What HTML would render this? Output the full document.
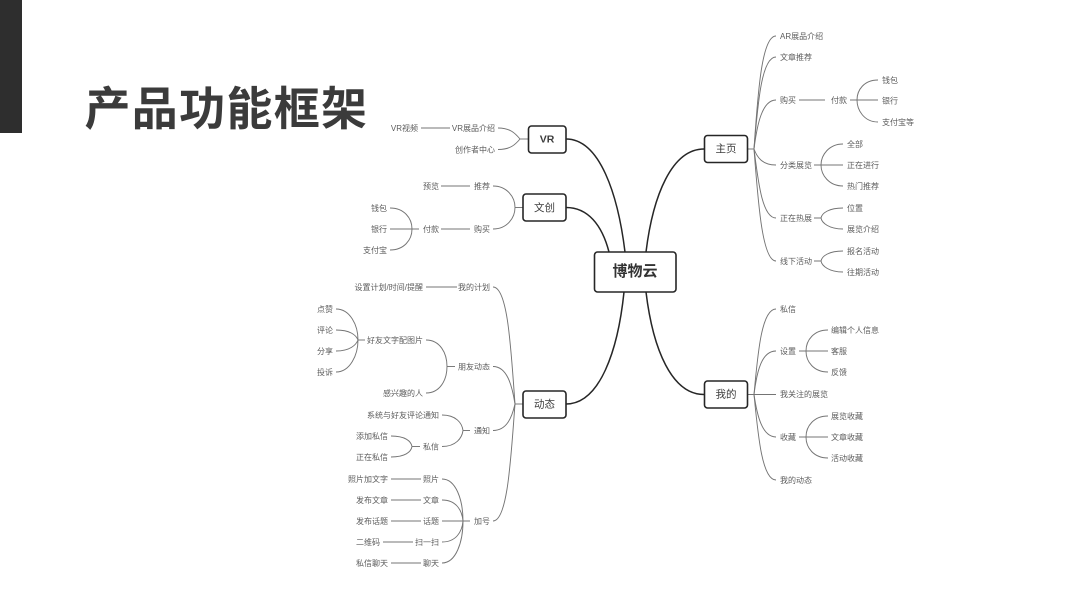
<!DOCTYPE html>
<html lang="zh">
<head>
<meta charset="utf-8">
<title>产品功能框架</title>
<style>
html,body{margin:0;padding:0;background:#fff;width:1067px;height:600px;overflow:hidden}
svg{display:block;filter:blur(.3px)}
text{font-family:"Liberation Sans","Noto Sans CJK SC",sans-serif}
.t{font-size:8px;fill:#5c5c5c;dominant-baseline:central;transform:translateY(.5px)}
.e{text-anchor:end}
.b{font-size:10.500px;fill:#3c3c3c;text-anchor:middle;dominant-baseline:central;transform:translateY(.5px)}
.l{fill:none;stroke:#747474;stroke-width:.95}
.m{fill:none;stroke:#262626;stroke-width:1.500}
.r{fill:#fff;stroke:#262626;stroke-width:1.600}
</style>
</head>
<body>
<svg width="1067" height="600" viewBox="0 0 1067 600" xmlns="http://www.w3.org/2000/svg">
<rect x="0" y="0" width="22" height="133" fill="#2e2e2e"/>
<text x="84.500" y="109" font-size="46" font-weight="700" letter-spacing="1.300" fill="#3b3b3b" dominant-baseline="central">产品功能框架</text>

<!-- main connectors -->
<path class="m" d="M566 139 C600 139 618 195 625 252"/>
<path class="m" d="M566 207.500 C588 207.500 602 225 609 252"/>
<path class="m" d="M566 404 C600 404 618 350 624 292"/>
<path class="m" d="M704 149 C672 149 653 195 646 252"/>
<path class="m" d="M704 394.500 C672 394.500 653 350 646 292"/>

<!-- right: 主页 -->
<path class="l" d="M748 149H754"/>
<path class="l" d="M754 149C758 90 762 36 776 36"/>
<path class="l" d="M754 149C758 100 762 57 776 57"/>
<path class="l" d="M754 149C757 125 762 100 776 100"/>
<path class="l" d="M754 149C757 157 762 165 776 165"/>
<path class="l" d="M754 149C758 180 762 218 776 218"/>
<path class="l" d="M754 149C758 200 762 261 776 261"/>
<path class="l" d="M799 100H825M850 100H878"/>
<path class="l" d="M857 100C857 90 864 80 878 80M857 100C857 110 864 122 878 122"/>
<path class="l" d="M814 165H843"/>
<path class="l" d="M821 165C821 155 829 144 843 144M821 165C821 175 829 186 843 186"/>
<path class="l" d="M814 218H821C822 213 829 208 843 208M821 218C822 223 829 229 843 229"/>
<path class="l" d="M814 261H821C822 256 829 251 843 251M821 261C822 266 829 272 843 272"/>
<text class="t" x="780" y="36">AR展品介绍</text>
<text class="t" x="780" y="57">文章推荐</text>
<text class="t" x="780" y="100">购买</text>
<text class="t" x="831" y="100">付款</text>
<text class="t" x="882" y="80">钱包</text>
<text class="t" x="882" y="100.500">银行</text>
<text class="t" x="882" y="122">支付宝等</text>
<text class="t" x="780" y="165">分类展览</text>
<text class="t" x="847" y="144">全部</text>
<text class="t" x="847" y="165">正在进行</text>
<text class="t" x="847" y="186">热门推荐</text>
<text class="t" x="780" y="218">正在热展</text>
<text class="t" x="847" y="208">位置</text>
<text class="t" x="847" y="229">展览介绍</text>
<text class="t" x="780" y="261">线下活动</text>
<text class="t" x="847" y="251">报名活动</text>
<text class="t" x="847" y="272">往期活动</text>

<!-- right: 我的 -->
<path class="l" d="M748 394.500H776"/>
<path class="l" d="M754 394.500C758 350 762 309 776 309"/>
<path class="l" d="M754 394.500C757 370 762 351 776 351"/>
<path class="l" d="M754 394.500C757 415 762 437 776 437"/>
<path class="l" d="M754 394.500C758 435 762 480 776 480"/>
<path class="l" d="M799 351H828"/>
<path class="l" d="M806 351C806 340 814 330 828 330M806 351C806 362 814 372 828 372"/>
<path class="l" d="M799 437H828"/>
<path class="l" d="M806 437C806 426 814 416 828 416M806 437C806 448 814 458 828 458"/>
<text class="t" x="780" y="309">私信</text>
<text class="t" x="780" y="351">设置</text>
<text class="t" x="831" y="330">编辑个人信息</text>
<text class="t" x="831" y="351">客服</text>
<text class="t" x="831" y="372">反馈</text>
<text class="t" x="780" y="394">我关注的展览</text>
<text class="t" x="780" y="437">收藏</text>
<text class="t" x="831" y="416">展览收藏</text>
<text class="t" x="831" y="437">文章收藏</text>
<text class="t" x="831" y="458">活动收藏</text>
<text class="t" x="780" y="480">我的动态</text>

<!-- left: VR -->
<path class="l" d="M528 139H520"/>
<path class="l" d="M520 139C515 133 510 128 498 128M520 139C515 145 510 149.500 498 149.500"/>
<path class="l" d="M421 128H450"/>
<text class="t e" x="418" y="128">VR视频</text>
<text class="t e" x="495" y="128">VR展品介绍</text>
<text class="t e" x="495" y="149.500">创作者中心</text>

<!-- left: 文创 -->
<path class="l" d="M523 207.500H515"/>
<path class="l" d="M515 207.500C515 197 507 186 493 186M515 207.500C515 218 507 229 493 229"/>
<path class="l" d="M441 186H470M441 229H470"/>
<path class="l" d="M419 229H390"/>
<path class="l" d="M412 229C412 218 404 208 390 208M412 229C412 240 404 250 390 250"/>
<text class="t e" x="439" y="186">预览</text>
<text class="t e" x="490" y="186">推荐</text>
<text class="t e" x="490" y="229">购买</text>
<text class="t e" x="439" y="229">付款</text>
<text class="t e" x="387" y="208">钱包</text>
<text class="t e" x="387" y="229">银行</text>
<text class="t e" x="387" y="250">支付宝</text>

<!-- left: 动态 -->
<path class="l" d="M523 404H515"/>
<path class="l" d="M515 404C511 350 508 287 493 287"/>
<path class="l" d="M515 404C512 385 507 366.500 493 366.500"/>
<path class="l" d="M515 404C512 417 507 430.500 493 430.500"/>
<path class="l" d="M515 404C511 455 508 521 493 521"/>
<path class="l" d="M426 287H457"/>
<path class="l" d="M455 366.500H447"/>
<path class="l" d="M447 366.500C447 353 440 340 426 340M447 366.500C447 380 440 393 426 393"/>
<path class="l" d="M365 340H358"/>
<path class="l" d="M358 340C358 325 350 309 336 309M358 340C356 335 350 330 336 330M358 340C356 345 350 351 336 351M358 340C358 355 350 372 336 372"/>
<path class="l" d="M470 430.500H463"/>
<path class="l" d="M463 430.500C462 423 456 415 442 415M463 430.500C462 438 456 446.500 442 446.500"/>
<path class="l" d="M420 446.500H412"/>
<path class="l" d="M412 446.500C411 441 405 436 391 436M412 446.500C411 452 405 457 391 457"/>
<path class="l" d="M470 521H442"/>
<path class="l" d="M463 521C463 500 456 479 442 479M463 521C462 510 456 500 442 500M463 521C462 532 456 542 442 542M463 521C463 542 456 563 442 563"/>
<path class="l" d="M391 479H421M391 500H421M391 521H421M383 542H413M391 563H421"/>
<text class="t e" x="423" y="287">设置计划/时间/提醒</text>
<text class="t e" x="490" y="287">我的计划</text>
<text class="t e" x="333" y="309">点赞</text>
<text class="t e" x="333" y="330">评论</text>
<text class="t e" x="333" y="351">分享</text>
<text class="t e" x="333" y="372">投诉</text>
<text class="t e" x="423" y="340">好友文字配图片</text>
<text class="t e" x="423" y="393">感兴趣的人</text>
<text class="t e" x="490" y="366.500">朋友动态</text>
<text class="t e" x="439" y="415">系统与好友评论通知</text>
<text class="t e" x="388" y="436">添加私信</text>
<text class="t e" x="388" y="457">正在私信</text>
<text class="t e" x="439" y="446.500">私信</text>
<text class="t e" x="490" y="430.500">通知</text>
<text class="t e" x="388" y="479">照片加文字</text>
<text class="t e" x="439" y="479">照片</text>
<text class="t e" x="388" y="500">发布文章</text>
<text class="t e" x="439" y="500">文章</text>
<text class="t e" x="388" y="521">发布话题</text>
<text class="t e" x="439" y="521">话题</text>
<text class="t e" x="380" y="542">二维码</text>
<text class="t e" x="439" y="542">扫一扫</text>
<text class="t e" x="388" y="563">私信聊天</text>
<text class="t e" x="439" y="563">聊天</text>
<text class="t e" x="490" y="521">加号</text>

<!-- nodes -->
<rect class="r" x="594.500" y="252" width="81.500" height="40" rx="3"/>
<text x="635" y="271.500" font-size="15" font-weight="700" fill="#333" text-anchor="middle" dominant-baseline="central">博物云</text>
<rect class="r" x="528.500" y="126" width="37.500" height="27" rx="3"/>
<text class="b" x="547" y="139" font-weight="700">VR</text>
<rect class="r" x="523" y="194" width="43" height="27" rx="3"/>
<text class="b" x="544.500" y="207.500">文创</text>
<rect class="r" x="523" y="391" width="43" height="27" rx="3"/>
<text class="b" x="544.500" y="404">动态</text>
<rect class="r" x="704.500" y="135.500" width="43" height="27" rx="3"/>
<text class="b" x="726" y="148.500">主页</text>
<rect class="r" x="704.500" y="381" width="43" height="27" rx="3"/>
<text class="b" x="726" y="394">我的</text>
</svg>
</body>
</html>
